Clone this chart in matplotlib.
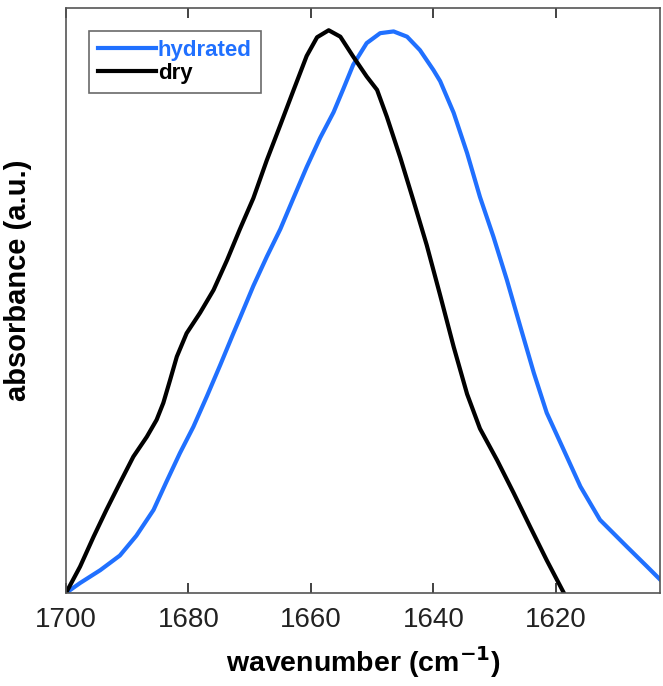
import numpy as np
import matplotlib
matplotlib.use("Agg")
import matplotlib.pyplot as plt

plt.rcParams['font.family'] = ['Liberation Sans', 'DejaVu Sans']

# amide I band, normalised absorbance
dry_wn = [1700.0, 1697.7, 1695.5, 1693.4, 1691.2, 1689.0, 1686.8, 1685.2, 1684.1,
          1683.0, 1681.9, 1680.3, 1678.1, 1675.9, 1673.7, 1671.6, 1669.4, 1667.2,
          1665.0, 1662.9, 1660.7, 1659.0, 1657.1, 1655.2, 1653.1, 1650.9, 1649.2,
          1647.6, 1645.4, 1643.3, 1641.1, 1638.9, 1636.7, 1634.5, 1632.4, 1629.6,
          1626.9, 1624.2, 1621.5, 1618.7]
dry_abs = [0.000, 0.045, 0.096, 0.142, 0.188, 0.233, 0.267, 0.296, 0.325,
           0.364, 0.404, 0.444, 0.479, 0.518, 0.569, 0.622, 0.675, 0.740,
           0.800, 0.858, 0.918, 0.950, 0.962, 0.951, 0.917, 0.883, 0.860,
           0.814, 0.744, 0.672, 0.595, 0.509, 0.421, 0.340, 0.281, 0.227,
           0.171, 0.113, 0.056, 0.000]

hyd_wn = [1700.0, 1697.7, 1694.4, 1691.2, 1688.5, 1685.7, 1683.6, 1681.4, 1679.2,
          1677.0, 1674.8, 1672.7, 1671.6, 1669.4, 1667.2, 1665.0, 1662.9, 1660.7,
          1658.5, 1656.3, 1654.7, 1653.1, 1650.9, 1648.7, 1646.5, 1644.3, 1642.2,
          1640.0, 1638.9, 1636.7, 1634.5, 1632.4, 1630.2, 1628.0, 1625.8, 1623.6,
          1621.5, 1618.7, 1616.0, 1612.8, 1608.4, 1605.1, 1602.9]
hyd_abs = [0.000, 0.017, 0.039, 0.064, 0.098, 0.142, 0.190, 0.239, 0.284,
           0.336, 0.390, 0.443, 0.470, 0.525, 0.575, 0.622, 0.674, 0.728,
           0.778, 0.822, 0.862, 0.903, 0.940, 0.957, 0.960, 0.951, 0.928,
           0.894, 0.875, 0.821, 0.752, 0.677, 0.609, 0.535, 0.455, 0.376,
           0.308, 0.244, 0.182, 0.125, 0.079, 0.045, 0.022]

fig = plt.figure(figsize=(6.63, 6.86), dpi=100)
ax = fig.add_axes([0.0995, 0.1356, 0.896, 0.8527])

ax.plot(hyd_wn, hyd_abs, color='#2070ff', lw=3, label='hydrated', solid_joinstyle='round')
ax.plot(dry_wn, dry_abs, color='black', lw=3, label='dry', solid_joinstyle='round')

ax.set_xlim(1700, 1603)
ax.set_ylim(0, 1)
ax.set_xticks([1700, 1680, 1660, 1640, 1620])
ax.set_yticks([])
ax.tick_params(axis='x', direction='in', length=7, width=1.2, top=True,
               labelsize=20, pad=10, colors='#222222')
for s in ax.spines.values():
    s.set_color('#555555')
    s.set_linewidth(1.2)

ax.set_xlabel(r'wavenumber (cm$^{\mathbf{-1}}$)', fontsize=20.5, fontweight='bold', labelpad=8)
ax.set_ylabel('absorbance (a.u.)', fontsize=21, fontweight='bold')
ax.yaxis.set_label_coords(-0.058, 0.535)

leg = ax.legend(loc='upper left', fontsize=16, labelcolor='linecolor', fancybox=False,
                edgecolor='#444444', handlelength=2.6, handletextpad=0.1,
                borderpad=0.4, labelspacing=0.1, bbox_to_anchor=(0.02, 0.98))
for t in leg.get_texts():
    t.set_fontweight('bold')
leg.get_frame().set_linewidth(1.2)

fig.savefig('out.png', dpi=100)
